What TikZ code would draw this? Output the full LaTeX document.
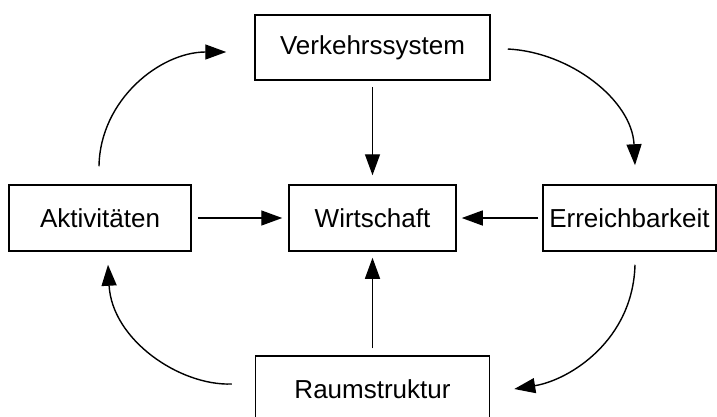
\documentclass[tikz,border=0pt]{standalone}
\usepackage{fontspec}
\setmainfont{Liberation Sans}
\usetikzlibrary{arrows.meta}
\begin{document}
\begin{tikzpicture}[x=1pt,y=-1pt,
  box/.style={draw,line width=1.5pt,inner sep=0pt,font=\fontsize{26}{30}\selectfont},
  conn/.style={line width=1.4pt,-{Triangle[length=21pt,width=15pt]}}]
\useasboundingbox (0,0) rectangle (717,416);
\node[box,minimum width=235pt,minimum height=65pt] (verkehr) at (372.5,47.5) {Verkehrssystem};
\node[box,minimum width=182pt,minimum height=66pt] (akt) at (100,218) {Aktivitäten};
\node[box,minimum width=167pt,minimum height=66pt] (wirt) at (372.5,218) {Wirtschaft};
\node[box,minimum width=173pt,minimum height=66pt] (erreich) at (629.5,218) {Erreichbarkeit};
\node[box,minimum width=234pt,minimum height=67pt] (raum) at (372.5,389.5) {Raumstruktur};
% straight connectors
\draw[conn,shorten <=6pt,shorten >=9pt] (verkehr.south) -- (wirt.north);
\draw[conn,shorten <=6pt,shorten >=6pt] (akt.east) -- (wirt.west);
\draw[conn,shorten <=4pt,shorten >=5pt] (erreich.west) -- (wirt.east);
\draw[conn,shorten <=7pt,shorten >=6pt] (raum.north) -- (wirt.south);
% curved connectors
\draw[conn] ([shift={(-1,-18)}]akt.north) .. controls (100,100) and (160,52) .. ([shift={(-28,4.5)}]verkehr.west);
\draw[conn] ([shift={(17,1.5)}]verkehr.east) .. controls (570,52) and (632,100) .. ([shift={(5.5,-19)}]erreich.north);
\draw[conn] ([shift={(5.5,13)}]erreich.south) .. controls (633,340) and (570,380) .. ([shift={(24,-0.5)}]raum.east);
\draw[conn] ([shift={(-23,-5.5)}]raum.west) .. controls (180,386) and (112,340) .. ([shift={(8,13)}]akt.south);
\end{tikzpicture}
\end{document}
